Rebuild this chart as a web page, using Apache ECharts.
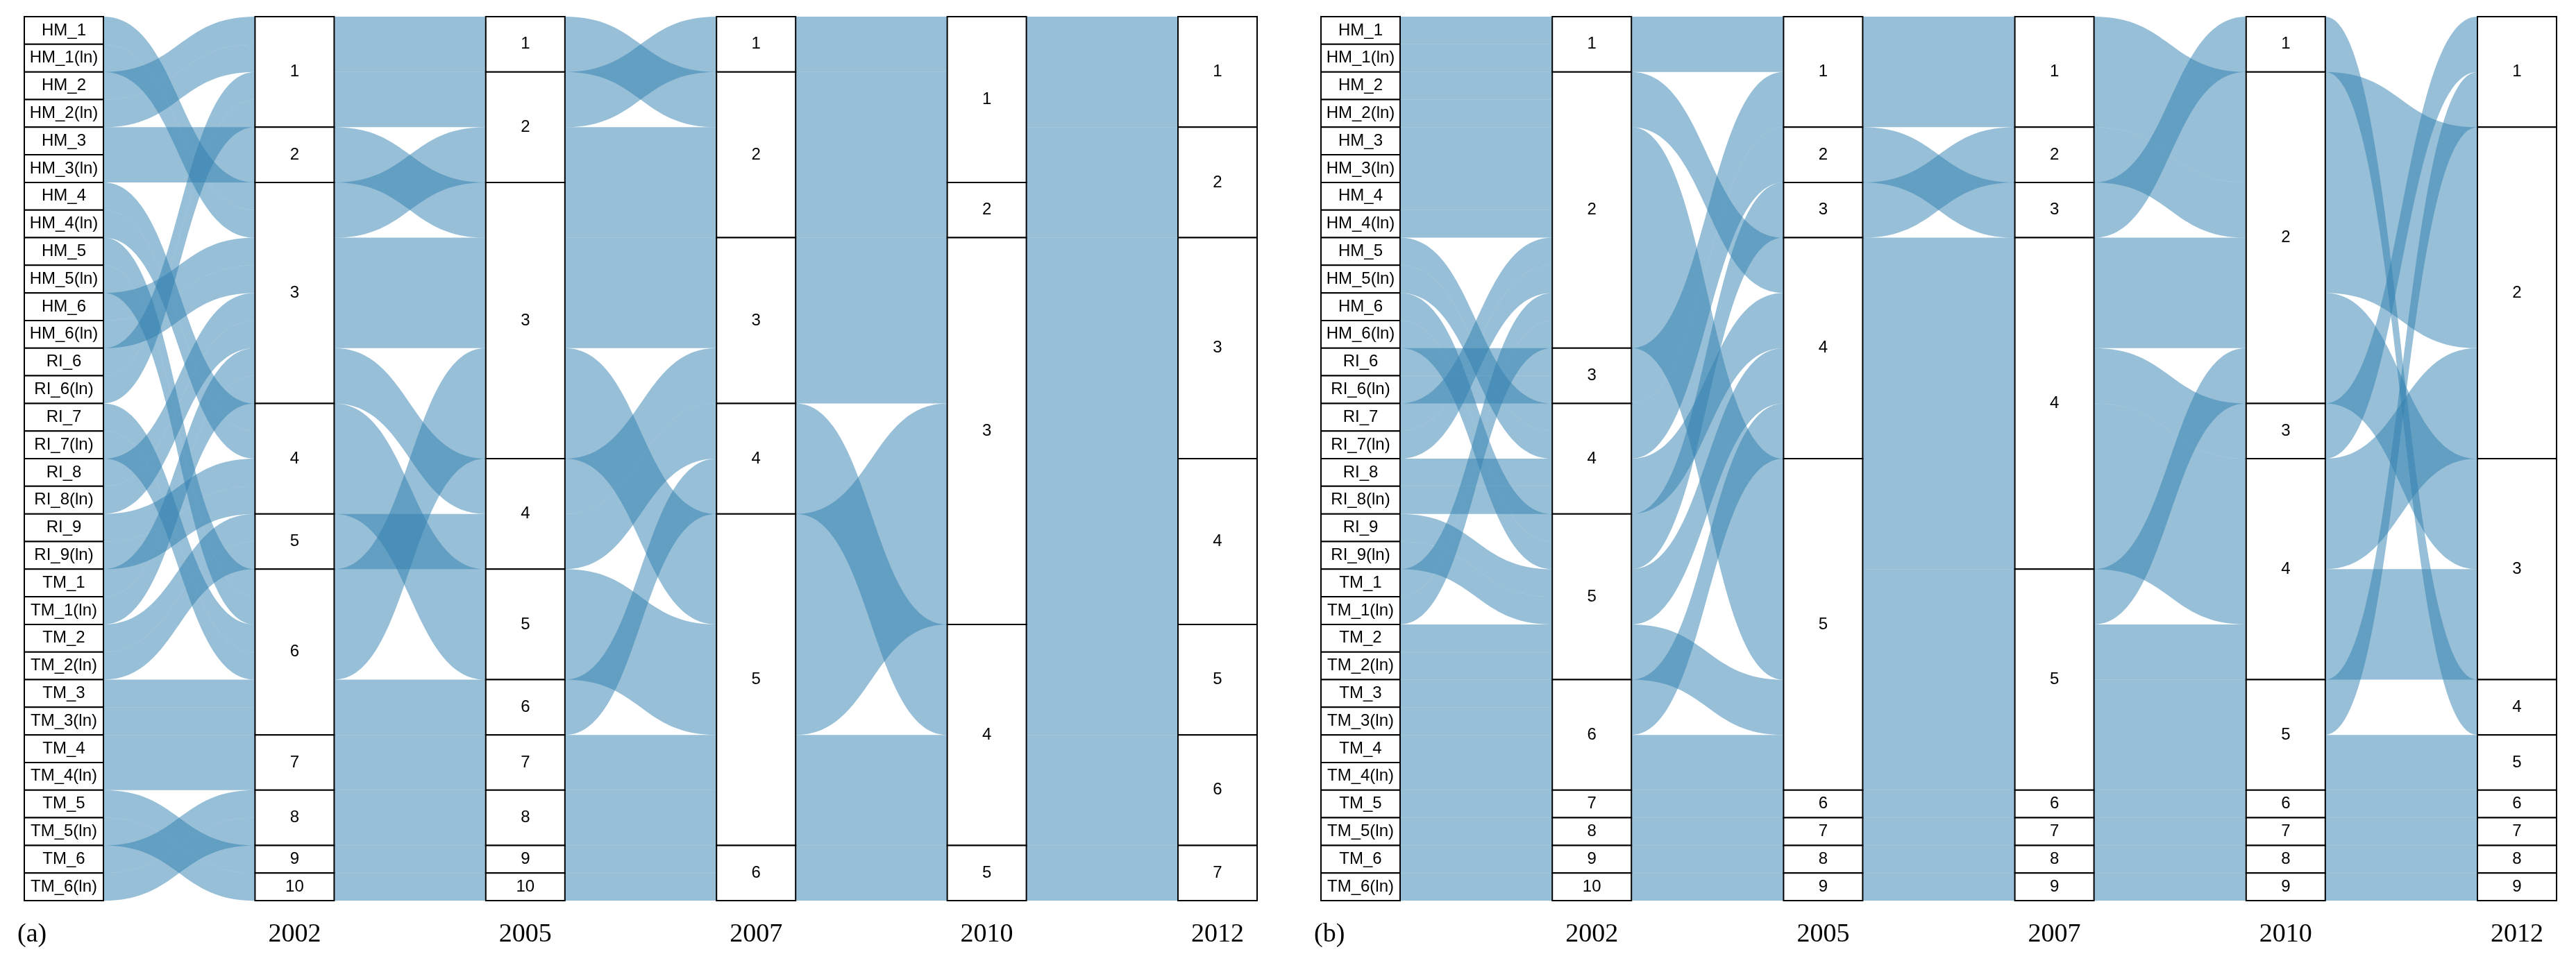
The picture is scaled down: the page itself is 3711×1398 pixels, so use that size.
<!DOCTYPE html>
<html><head><meta charset="utf-8">
<script src="https://cdn.jsdelivr.net/npm/echarts@6/dist/echarts.min.js"></script>
<style>html,body{margin:0;padding:0;background:#fff}#c{width:3711px;height:1398px}</style>
</head><body><div id="c"></div>
<script>
const stations = ['HM_1','HM_1(ln)','HM_2','HM_2(ln)','HM_3','HM_3(ln)','HM_4','HM_4(ln)','HM_5','HM_5(ln)','HM_6','HM_6(ln)',
 'RI_6','RI_6(ln)','RI_7','RI_7(ln)','RI_8','RI_8(ln)','RI_9','RI_9(ln)',
 'TM_1','TM_1(ln)','TM_2','TM_2(ln)','TM_3','TM_3(ln)','TM_4','TM_4(ln)','TM_5','TM_5(ln)','TM_6','TM_6(ln)'];
const years = ['2002','2005','2007','2010','2012'];
// cluster of each station per year, panel (a)
const a2002 = [3,3,1,1,2,2,4,4,6,6,3,3,1,1,6,6,3,3,4,4,3,3,5,5,6,6,7,7,9,10,8,8];
const a2005 = [3,3,2,2,3,3,5,5,3,3,4,4,1,1,6,6,3,3,5,5,2,2,4,4,3,3,7,7,9,10,8,8];
const a2007 = [2,2,1,1,3,3,5,5,5,5,3,3,2,2,4,4,3,3,5,5,2,2,4,4,5,5,5,5,6,6,5,5];
const a2010 = [1,1,1,1,3,3,3,3,3,3,3,3,2,2,4,4,3,3,4,4,1,1,4,4,3,3,4,4,5,5,3,3];
const a2012 = [1,1,1,1,3,3,3,3,4,4,3,3,2,2,5,5,3,3,6,6,2,2,5,5,4,4,6,6,7,7,4,4];
// panel (b)
const b2002 = [1,1,2,2,2,2,2,2,4,4,5,5,3,3,2,2,4,4,5,5,2,2,5,5,6,6,6,6,7,8,9,10];
const b2005 = [1,1,4,4,5,5,5,5,2,2,3,3,1,1,5,5,4,4,5,5,5,5,4,4,4,4,5,5,6,7,8,9];
const b2007 = [1,1,4,4,4,4,4,4,3,3,2,2,1,1,5,5,4,4,5,5,5,5,4,4,4,4,5,5,6,7,8,9];
const b2010 = [2,2,2,2,4,4,4,4,1,1,2,2,2,2,2,2,2,2,5,5,4,4,4,4,3,3,5,5,6,7,8,9];
const b2012 = [2,2,2,2,2,2,3,3,4,4,2,2,2,2,3,3,3,3,1,1,3,3,2,2,1,1,5,5,6,7,8,9];

function build(p, cols){
  const nodes=[], links={};
  stations.forEach(s=>nodes.push({name:p+'|S|'+s, depth:0, lab:s}));
  cols.forEach((c,i)=>{
    const mx=Math.max(...c);
    for(let k=1;k<=mx;k++) nodes.push({name:p+'|'+years[i]+'|'+k, depth:i+1, lab:String(k)});
  });
  stations.forEach((s,j)=>{
    let prev=p+'|S|'+s;
    cols.forEach((c,i)=>{
      const cur=p+'|'+years[i]+'|'+c[j];
      const key=prev+'>>'+cur;
      links[key]=(links[key]||0)+1;
      prev=cur;
    });
  });
  const L=Object.keys(links).map(k=>{const [a,b]=k.split('>>');return {source:a,target:b,value:links[k]};});
  return {nodes,links:L};
}
const A=build('a',[a2002,a2005,a2007,a2010,a2012]);
const B=build('b',[b2002,b2005,b2007,b2010,b2012]);
function series(d,left,right){
  return {type:'sankey',left:left,right:right,top:24,bottom:100,nodeWidth:114,nodeGap:0,
    layoutIterations:0,draggable:false,emphasis:{disabled:true},
    data:d.nodes,links:d.links,
    itemStyle:{color:'#fff',borderColor:'#000',borderWidth:2},
    lineStyle:{color:'#2f7fb0',opacity:0.5,curveness:0.5},
    label:{position:'inside',color:'#000',fontFamily:'Liberation Sans',fontSize:24,
      formatter:p=>p.data.lab}};
}
const graphics=[];
function yearLabels(left,right,tag){
  const w=3711-left-right, step=(w-114)/5;
  years.forEach((y,i)=>graphics.push({type:'text',x:left+(i+1)*step+57,y:1347,
    style:{text:y,font:'38px "Liberation Serif"',fill:'#000',textAlign:'center',textVerticalAlign:'middle'}}));
  graphics.push({type:'text',x:left-10,y:1347,style:{text:tag,font:'38px "Liberation Serif"',fill:'#000',textAlign:'left',textVerticalAlign:'middle'}});
}
yearLabels(35,1900,'(a)');
yearLabels(1903,28,'(b)');
const chart=echarts.init(document.getElementById('c'));
chart.setOption({animation:false,backgroundColor:'#fff',
  series:[series(A,35,1900),series(B,1903,28)],graphic:graphics});
</script></body></html>
